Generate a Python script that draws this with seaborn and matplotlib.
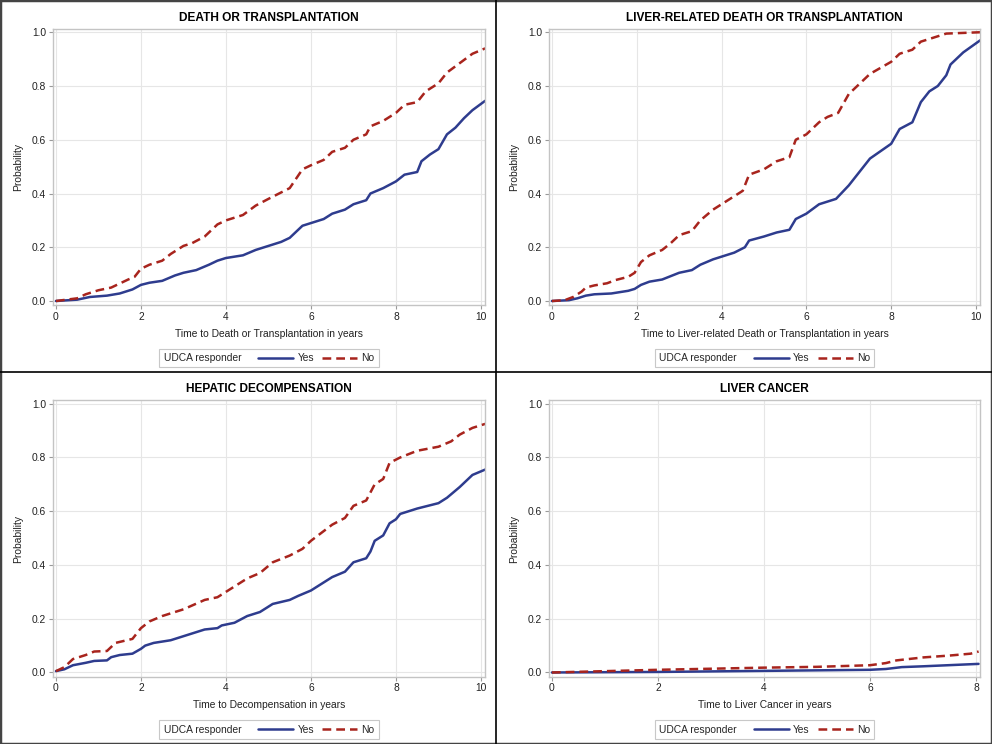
import pandas as pd
import matplotlib
matplotlib.use('Agg')
import matplotlib.pyplot as plt
import seaborn as sns
from matplotlib.lines import Line2D
from matplotlib.patches import Rectangle
from matplotlib.offsetbox import HPacker

# --- estilo ---
sns.set_theme(style='whitegrid')
plt.rcParams['font.family'] = ['Liberation Sans', 'DejaVu Sans']

BLUE = '#2E3C8E'
RED = '#A8241D'
FS = 7.4  # tamaño de texto base

# --- datos (probabilidad acumulada) ---
# DEATH OR TRANSPLANTATION
dt_t_yes = [0, 0.5, 0.8, 1.2, 1.5, 1.8, 2.0, 2.2, 2.5, 2.8, 3.0, 3.3, 3.6, 3.8, 4.0, 4.4, 4.7, 5.0,
            5.3, 5.5, 5.8, 6.0, 6.3, 6.5, 6.8, 7.0, 7.3, 7.4, 7.7, 8.0, 8.2, 8.5, 8.6, 8.8, 9.0,
            9.2, 9.4, 9.6, 9.8, 10.1]
dt_p_yes = [0, 0.005, 0.015, 0.02, 0.028, 0.043, 0.06, 0.068, 0.075, 0.095, 0.105, 0.115, 0.135,
            0.15, 0.16, 0.17, 0.19, 0.205, 0.22, 0.235, 0.28, 0.29, 0.305, 0.325, 0.34, 0.36, 0.375,
            0.40, 0.42, 0.445, 0.47, 0.48, 0.52, 0.545, 0.565, 0.62, 0.645, 0.68, 0.71, 0.745]
dt_t_no = [0, 0.5, 0.7, 1.0, 1.3, 1.5, 1.7, 1.85, 2.0, 2.2, 2.5, 2.7, 3.0, 3.2, 3.5, 3.8, 4.0, 4.4,
           4.7, 5.0, 5.5, 5.8, 6.0, 6.3, 6.5, 6.8, 7.0, 7.3, 7.4, 7.7, 8.0, 8.2, 8.5, 8.7, 9.0, 9.2,
           9.5, 9.8, 10.1]
dt_p_no = [0, 0.01, 0.025, 0.04, 0.05, 0.065, 0.08, 0.09, 0.12, 0.135, 0.15, 0.175, 0.205, 0.215,
           0.24, 0.285, 0.30, 0.32, 0.355, 0.38, 0.42, 0.49, 0.505, 0.525, 0.555, 0.57, 0.60, 0.62,
           0.65, 0.67, 0.70, 0.73, 0.74, 0.78, 0.81, 0.85, 0.885, 0.92, 0.94]

# LIVER-RELATED DEATH OR TRANSPLANTATION
lr_t_yes = [0, 0.4, 0.6, 0.8, 1.0, 1.4, 1.8, 1.95, 2.1, 2.3, 2.6, 3.0, 3.3, 3.5, 3.8, 4.0, 4.3,
            4.55, 4.65, 5.0, 5.3, 5.6, 5.75, 6.0, 6.3, 6.7, 7.0, 7.2, 7.5, 8.0, 8.2, 8.5, 8.7, 8.9,
            9.1, 9.3, 9.4, 9.7, 10.1]
lr_p_yes = [0, 0.003, 0.01, 0.02, 0.025, 0.028, 0.038, 0.045, 0.06, 0.072, 0.08, 0.105, 0.115,
            0.135, 0.155, 0.165, 0.18, 0.20, 0.225, 0.24, 0.255, 0.265, 0.305, 0.325, 0.36, 0.38,
            0.43, 0.47, 0.53, 0.585, 0.64, 0.665, 0.74, 0.78, 0.80, 0.84, 0.88, 0.925, 0.97]
lr_t_no = [0, 0.3, 0.5, 0.7, 0.8, 1.0, 1.3, 1.5, 1.8, 1.95, 2.1, 2.3, 2.6, 2.8, 3.0, 3.3, 3.5, 3.8,
           4.0, 4.3, 4.5, 4.65, 5.0, 5.3, 5.6, 5.75, 6.0, 6.3, 6.5, 6.75, 7.0, 7.5, 8.0, 8.2, 8.5,
           8.7, 9.0, 9.3, 10.1]
lr_p_no = [0, 0.003, 0.015, 0.035, 0.05, 0.058, 0.066, 0.078, 0.09, 0.105, 0.145, 0.17, 0.19,
           0.215, 0.245, 0.26, 0.30, 0.34, 0.36, 0.39, 0.41, 0.47, 0.49, 0.52, 0.535, 0.60, 0.62,
           0.665, 0.685, 0.70, 0.77, 0.845, 0.89, 0.92, 0.935, 0.965, 0.98, 0.995, 1.0]

# HEPATIC DECOMPENSATION
hd_t_yes = [0, 0.2, 0.4, 0.7, 0.9, 1.2, 1.3, 1.5, 1.8, 2.0, 2.1, 2.3, 2.7, 3.0, 3.5, 3.8, 3.9, 4.2,
            4.5, 4.8, 5.1, 5.5, 5.7, 6.0, 6.5, 6.8, 7.0, 7.3, 7.4, 7.5, 7.7, 7.85, 8.0, 8.1, 8.5,
            9.0, 9.2, 9.5, 9.8, 10.1]
hd_p_yes = [0.005, 0.012, 0.027, 0.036, 0.043, 0.045, 0.057, 0.065, 0.07, 0.088, 0.10, 0.11, 0.12,
            0.135, 0.16, 0.165, 0.175, 0.185, 0.21, 0.225, 0.255, 0.27, 0.285, 0.305, 0.355, 0.375,
            0.41, 0.425, 0.45, 0.49, 0.51, 0.555, 0.57, 0.59, 0.61, 0.63, 0.65, 0.69, 0.735, 0.755]
hd_t_no = [0, 0.2, 0.4, 0.7, 0.9, 1.2, 1.4, 1.8, 2.0, 2.2, 2.5, 3.0, 3.5, 3.8, 4.0, 4.5, 4.8, 5.1,
           5.5, 5.8, 6.0, 6.5, 6.8, 7.0, 7.3, 7.5, 7.7, 7.85, 8.1, 8.5, 9.0, 9.3, 9.5, 9.8, 10.1]
hd_p_no = [0.005, 0.02, 0.05, 0.065, 0.078, 0.08, 0.11, 0.125, 0.165, 0.19, 0.21, 0.235, 0.27,
           0.28, 0.30, 0.35, 0.37, 0.41, 0.435, 0.46, 0.49, 0.55, 0.575, 0.62, 0.64, 0.70, 0.72,
           0.78, 0.80, 0.825, 0.84, 0.86, 0.885, 0.91, 0.925]

# LIVER CANCER
lc_t_yes = [0, 2, 4, 6, 6.3, 6.6, 7.0, 8.05]
lc_p_yes = [0, 0.002, 0.006, 0.01, 0.013, 0.02, 0.023, 0.032]
lc_t_no = [0, 1, 2, 3, 4, 5, 6, 6.3, 6.5, 7.0, 7.5, 7.9, 8.05]
lc_p_no = [0, 0.005, 0.01, 0.014, 0.018, 0.021, 0.027, 0.035, 0.045, 0.056, 0.063, 0.07, 0.078]

titles = ['DEATH OR TRANSPLANTATION', 'LIVER-RELATED DEATH OR TRANSPLANTATION',
          'HEPATIC DECOMPENSATION', 'LIVER CANCER']
xlabels = ['Time to Death or Transplantation in years',
           'Time to Liver-related Death or Transplantation in years',
           'Time to Decompensation in years', 'Time to Liver Cancer in years']
xmax = [10, 10, 10, 8]
series = [(dt_t_yes, dt_p_yes, dt_t_no, dt_p_no),
          (lr_t_yes, lr_p_yes, lr_t_no, lr_p_no),
          (hd_t_yes, hd_p_yes, hd_t_no, hd_p_no),
          (lc_t_yes, lc_p_yes, lc_t_no, lc_p_no)]

fig = plt.figure(figsize=(9.92, 7.44), dpi=100)
fig.patch.set_facecolor('white')

# posiciones de los ejes [left, bottom, width, height]
positions = [[0.0534, 0.590, 0.4355, 0.371],
             [0.5534, 0.590, 0.4345, 0.371],
             [0.0534, 0.0907, 0.4355, 0.371],
             [0.5534, 0.0907, 0.4345, 0.371]]

for i in range(4):
    ax = fig.add_axes(positions[i])
    t_yes, p_yes, t_no, p_no = series[i]
    df = pd.concat([
        pd.DataFrame({'time': t_yes, 'prob': p_yes, 'grupo': 'Yes'}),
        pd.DataFrame({'time': t_no, 'prob': p_no, 'grupo': 'No'}),
    ])
    sns.lineplot(data=df, x='time', y='prob', hue='grupo', style='grupo',
                 palette={'Yes': BLUE, 'No': RED}, dashes={'Yes': '', 'No': (3.5, 2)},
                 estimator=None, sort=True, linewidth=1.8, legend=False, ax=ax)

    xm = xmax[i]
    ax.set_xlim(-0.007 * xm, xm * 1.0095)
    ax.set_ylim(-0.015, 1.012)
    ax.set_xticks(list(range(0, xm + 1, 2)))
    ax.set_yticks([0, 0.2, 0.4, 0.6, 0.8, 1.0])
    ax.set_yticklabels(['0.0', '0.2', '0.4', '0.6', '0.8', '1.0'])

    ax.set_facecolor('white')
    ax.grid(True, color='#E6E6E6', linewidth=0.8)
    for s in ax.spines.values():
        s.set_color('#C4C4C4')
        s.set_linewidth(1.0)
    ax.tick_params(axis='both', which='major', direction='out', length=3, width=0.8,
                   color='#9A9A9A', labelsize=FS, labelcolor='#222222', pad=2,
                   bottom=True, left=True)

    ax.set_title(titles[i], fontsize=8.6, fontweight='bold', pad=6, color='black')
    ax.set_xlabel(xlabels[i], fontsize=FS, color='#222222', labelpad=5)
    ax.set_ylabel('Probability', fontsize=FS, color='#222222', labelpad=6.5)

    handles = [Line2D([], [], color=BLUE, lw=1.8),
               Line2D([], [], color=RED, lw=1.8, dashes=(3.5, 2))]
    leg = ax.legend(handles, ['Yes', 'No'], title='UDCA responder', loc='upper center',
                    bbox_to_anchor=(0.5, -0.14), ncol=2, fontsize=FS, title_fontsize=FS,
                    frameon=True, fancybox=False, edgecolor='#C8C8C8', framealpha=1,
                    handlelength=3.4, handletextpad=0.4, columnspacing=0.8,
                    borderpad=0.15)
    leg.get_frame().set_linewidth(0.8)
    # titulo de la leyenda a la izquierda (horizontal)
    fs = FS * fig.dpi / 72
    box = HPacker(pad=0.3 * fs, sep=1.2 * fs, align='center',
                  children=[leg._legend_title_box, leg._legend_handle_box])
    box.set_figure(fig)
    box.axes = ax
    leg._legend_box = box
    leg._legend_box.set_offset(leg._findoffset)

# bordes de los paneles
fig.add_artist(Line2D([0.5, 0.5], [0, 1], transform=fig.transFigure, color='black', lw=1.2))
fig.add_artist(Line2D([0, 1], [0.5, 0.5], transform=fig.transFigure, color='black', lw=1.2))
fig.add_artist(Rectangle((0, 0), 1, 1, transform=fig.transFigure, fill=False,
                         edgecolor='#444444', lw=2.5))

plt.savefig('out.png', dpi=100)
